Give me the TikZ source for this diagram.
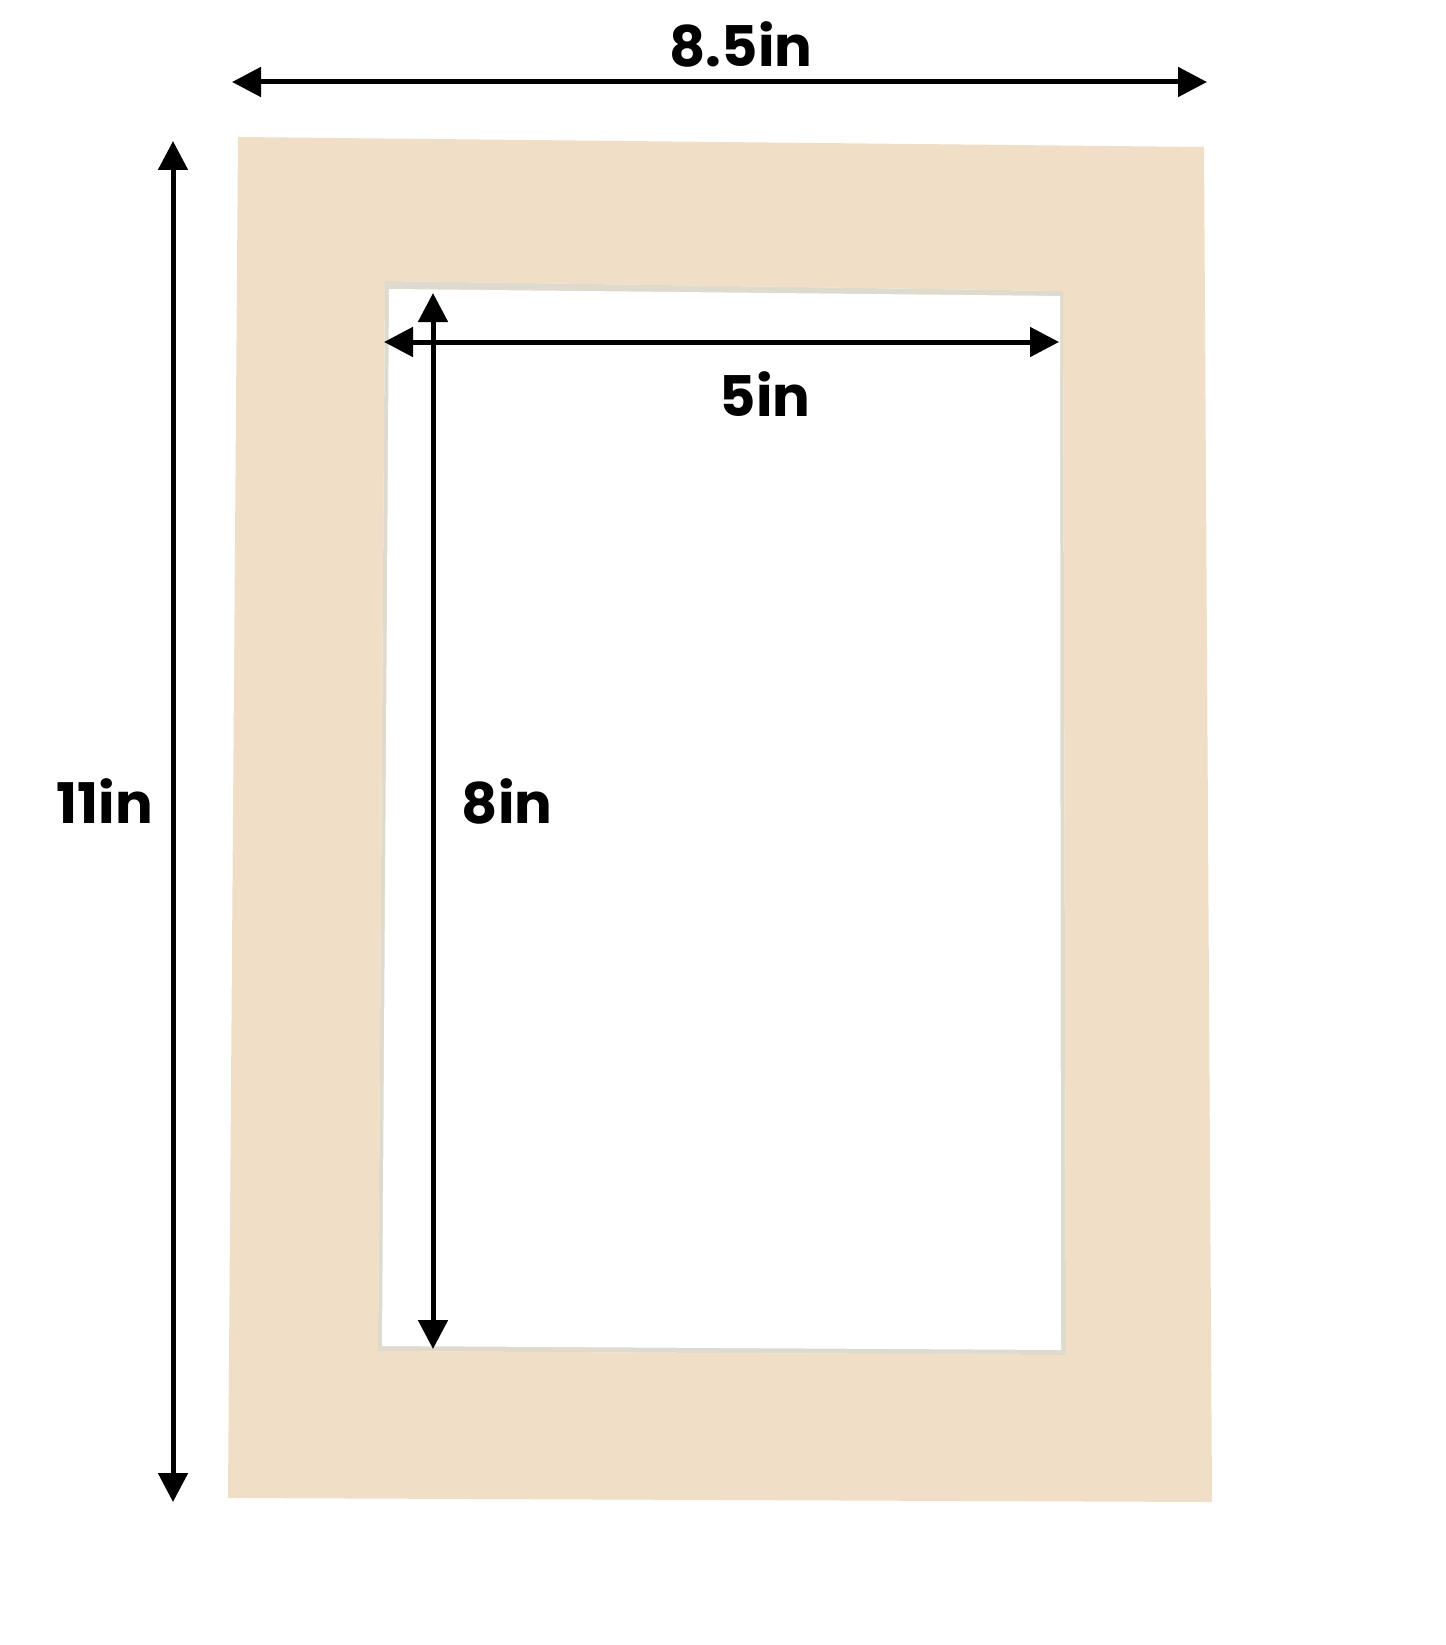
\documentclass[tikz,border=0pt]{standalone}
\usepackage{fontspec}
\setmainfont{Poppins}[UprightFont=* Bold]
\usetikzlibrary{arrows.meta}
\definecolor{mat}{RGB}{240,223,198}
\definecolor{bevel}{RGB}{222,219,206}
\tikzset{
  dim/.style={line width=5pt, {Triangle[length=29pt,width=29pt]}-{Triangle[length=29pt,width=29pt]}},
  lbl/.style={font=\fontsize{56}{60}\selectfont, text=black, inner sep=0pt}
}
\begin{document}
\begin{tikzpicture}[x=1pt,y=-1pt]
\useasboundingbox (0,0) rectangle (1445,1645);
\fill[white] (0,0) rectangle (1445,1645);
% mat board
\fill[mat, even odd rule] (238,137) -- (1204,147) -- (1212,1502) -- (228,1498) -- cycle
  (385,281) -- (1063,291) -- (1066,1355) -- (378,1351) -- cycle;
% bevel and opening
\fill[bevel] (385,281) -- (1063,291) -- (1066,1355) -- (378,1351) -- cycle;
\fill[white] (389,289) -- (1060,296) -- (1061,1350) -- (382,1346) -- cycle;
% coordinates
\coordinate (wl) at (232,82);
\coordinate (wr) at (1207,82);
\coordinate (ht) at (173,141);
\coordinate (hb) at (173,1502);
\coordinate (iwl) at (384,342);
\coordinate (iwr) at (1059,342);
\coordinate (iht) at (433,293);
\coordinate (ihb) at (433,1349);
% dimension arrows
\draw[dim] (wl) -- (wr);
\draw[dim] (ht) -- (hb);
\draw[dim] (iwl) -- (iwr);
\draw[dim] (iht) -- (ihb);
% labels
\node[lbl, anchor=base] (lw) at (741,67) {8.5in};
\node[lbl, anchor=base] (lh) at (105,823) {11in};
\node[lbl, anchor=base] (liw) at (765,416) {5in};
\node[lbl, anchor=base] (lih) at (507,823) {8in};
\end{tikzpicture}
\end{document}
